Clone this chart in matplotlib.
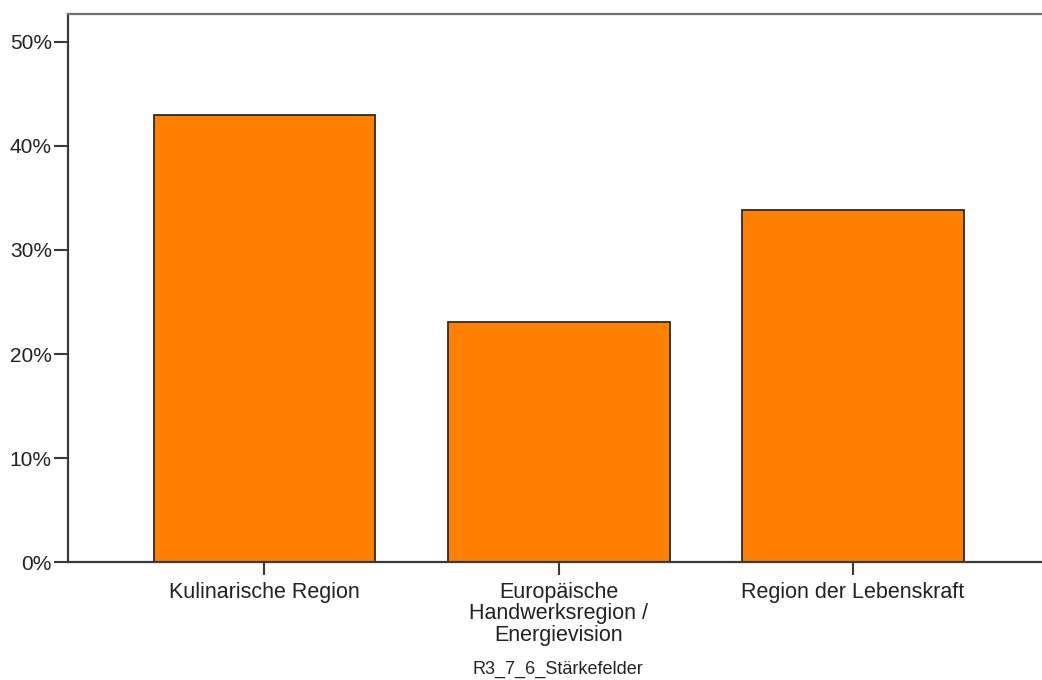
import numpy as np
import matplotlib
matplotlib.use("Agg")
import matplotlib.pyplot as plt
from matplotlib.ticker import FuncFormatter

# data
categories = ["Kulinarische Region",
              "Europäische\nHandwerksregion /\nEnergievision",
              "Region der Lebenskraft"]
percent = [42.95, 23.1, 33.85]
yticks = [0, 10, 20, 30, 40, 50]
title = "R3_7_6_Stärkefelder"

plt.rcParams["font.family"] = ["Liberation Sans", "DejaVu Sans"]

fig = plt.figure(figsize=(10.42, 6.8), dpi=100)
ax = fig.add_axes([0.0657, 0.1728, 0.9343, 0.8066])

x = np.arange(len(categories))
ax.bar(x, percent, width=0.753, color="#ff8000", edgecolor="#2b2b2b", linewidth=1.3, zorder=2)

ax.set_xlim(-0.666, 2.642)
ax.set_ylim(0, 52.64)
ax.set_yticks(yticks)
ax.yaxis.set_major_formatter(FuncFormatter(lambda v, p: f"{v:.0f}%"))
ax.set_xticks(x)
ax.set_xticklabels(categories, linespacing=1.02)

for s in ["left", "bottom", "top"]:
    ax.spines[s].set_color("#3a3a3a")
    ax.spines[s].set_linewidth(1.6)
ax.spines["top"].set_color("#707070")
ax.spines["right"].set_visible(False)

ax.tick_params(axis="y", length=10, width=1.5, color="#3a3a3a", pad=2, labelsize=15, labelcolor="#222222")
ax.tick_params(axis="x", length=9, width=1.5, color="#3a3a3a", pad=5, labelsize=15.5, labelcolor="#222222")

fig.text(558 / 1042, 1 - 669 / 680, title, ha="center", va="center", fontsize=13,
         color="#222222")

fig.savefig("out.png", dpi=100, facecolor="white")
